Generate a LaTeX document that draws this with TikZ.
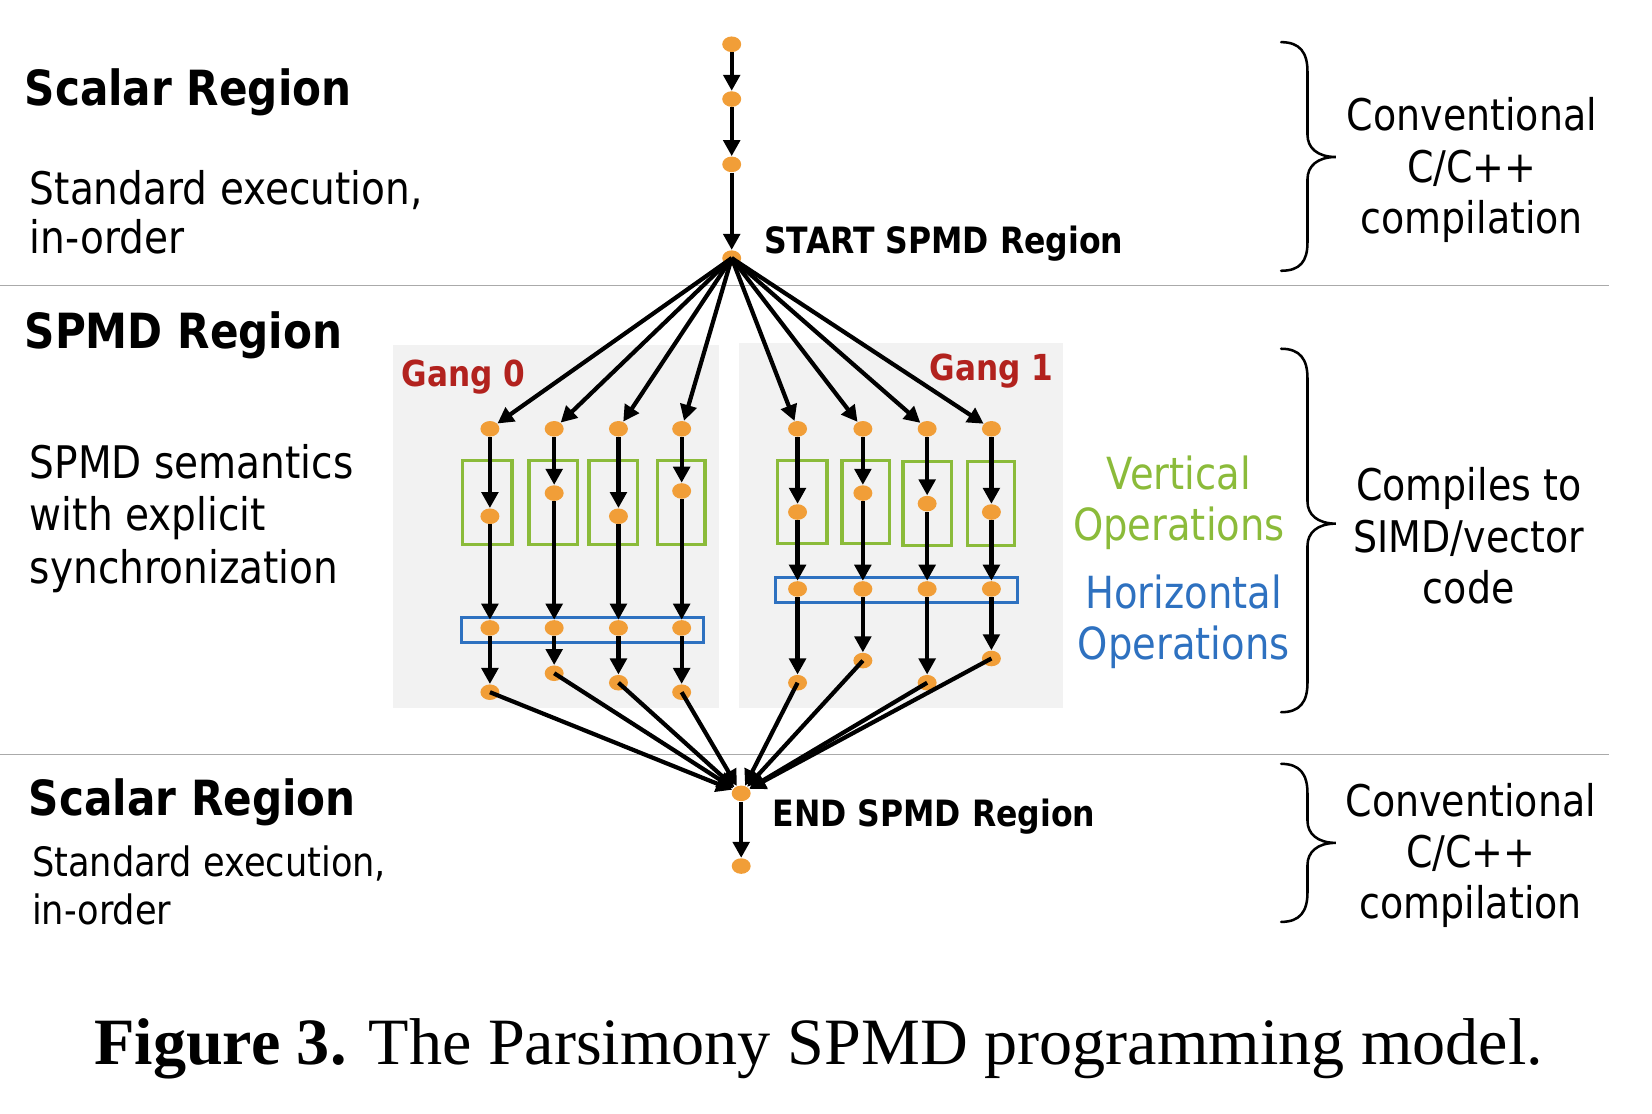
\documentclass[tikz,border=0pt]{standalone}
\usepackage{fontspec}
\setmainfont{Liberation Serif}
\newfontfamily\dv[FakeStretch=0.87]{DejaVu Sans}
\usetikzlibrary{arrows.meta,shapes.geometric}
\definecolor{dotc}{RGB}{241,158,56}
\definecolor{gangred}{RGB}{178,34,30}
\definecolor{vgreen}{RGB}{139,187,58}
\definecolor{hblue}{RGB}{46,113,192}
\definecolor{gboxc}{RGB}{242,242,242}
\definecolor{sepg}{RGB}{170,170,170}
\begin{document}
\begin{tikzpicture}[x=0.5pt,y=-0.5pt,
  dot/.style={ellipse,fill=dotc,minimum width=9pt,minimum height=7.4pt,inner sep=0pt},
  arr/.style={-{Triangle[length=7.6pt,width=7.8pt]},line width=2pt},
  lbl/.style={inner sep=0pt,anchor=base west},
  ctr/.style={inner sep=0pt,anchor=base},
  hd/.style={lbl,font=\dv\bfseries\fontsize{23pt}{27pt}\selectfont},
  bodyl/.style={lbl,font=\dv\fontsize{21.3pt}{25pt}\selectfont},
  bodyb/.style={lbl,font=\dv\fontsize{19.2pt}{23pt}\selectfont},
  rt/.style={ctr,font=\dv\fontsize{20.7pt}{24pt}\selectfont},
  vh/.style={ctr,font=\dv\fontsize{21pt}{25pt}\selectfont},
  gang/.style={inner sep=0pt,font=\dv\bfseries\fontsize{17pt}{20pt}\selectfont,text=gangred},
  gbox/.style={fill=gboxc,draw=none},
  vbox/.style={draw=vgreen,line width=1.6pt},
  hbox/.style={draw=hblue,line width=1.6pt},
  sep/.style={draw=sepg,line width=0.75pt},
  brace/.style={line width=1.2pt,line cap=round}]
\useasboundingbox (0,0) rectangle (1568,1057);

% gang backgrounds
\fill[gboxc] (373,327) rectangle (682,672);
\fill[gboxc] (701,326) rectangle (1009,672);

% separators
\draw[sep] (0,271) -- (1527,271);
\draw[sep] (0,716) -- (1527,716);

% vertical op boxes
\draw[vbox] (439,437) rectangle (486,517);
\draw[vbox] (502,437) rectangle (548,517);
\draw[vbox] (559,437) rectangle (605,517);
\draw[vbox] (624,437) rectangle (669,517);
\draw[vbox] (738,437) rectangle (785,516);
\draw[vbox] (799,437) rectangle (844,516);
\draw[vbox] (857,438) rectangle (903,518);
\draw[vbox] (918,438) rectangle (963,518);
% horizontal op boxes
\draw[hbox] (438,586) rectangle (668,610);
\draw[hbox] (736,548) rectangle (966,572);

% scalar chain
\node[dot] (n1) at (694.5,42) {};
\node[dot] (n2) at (694.5,94) {};
\node[dot] (n3) at (694.5,156) {};
\node[dot] (start) at (694.5,245) {};
\node[dot] (end) at (703.5,753) {};
\node[dot] (fin) at (703.5,822) {};

% gang 0
\foreach \i/\x/\m/\b in {1/465/490/657,2/526/468/639,3/587/490/648,4/647/466/657}{
  \node[dot] (at\i) at (\x,407) {};
  \node[dot] (am\i) at (\x,\m) {};
  \node[dot] (ah\i) at (\x,596) {};
  \node[dot] (ab\i) at (\x,\b) {};
}
% gang 1
\foreach \i/\x/\m/\b in {1/757/486/648,2/819/468/627,3/880/478/648,4/941/486/625}{
  \node[dot] (bt\i) at (\x,407) {};
  \node[dot] (bm\i) at (\x,\m) {};
  \node[dot] (bh\i) at (\x,559) {};
  \node[dot] (bb\i) at (\x,\b) {};
}

% connectors
\draw[arr] (n1) -- (n2);
\draw[arr] (n2) -- (n3);
\draw[arr] (n3) -- (start);
\foreach \g in {a,b}{
  \foreach \i in {1,...,4}{
    \draw[arr] (start.center) -- (\g t\i);
    \draw[arr] (\g t\i) -- (\g m\i);
    \draw[arr] (\g m\i) -- (\g h\i);
    \draw[arr] (\g h\i) -- (\g b\i);
    \draw[arr] (\g b\i.center) -- (end);
  }
}
\draw[arr] (end) -- (fin);

% braces
\draw[brace] (1216,40) .. controls (1234,40) and (1241,50) .. (1241,68) -- (1241,128)
  .. controls (1241,140) and (1250,149) .. (1268,149)
  .. controls (1250,149) and (1241,158) .. (1241,170) -- (1241,230)
  .. controls (1241,248) and (1234,257) .. (1216,257);
\draw[brace] (1216,331) .. controls (1234,331) and (1241,341) .. (1241,359) -- (1241,476)
  .. controls (1241,488) and (1250,497) .. (1268,497)
  .. controls (1250,497) and (1241,506) .. (1241,518) -- (1241,648)
  .. controls (1241,666) and (1234,676) .. (1216,676);
\draw[brace] (1216,725) .. controls (1234,725) and (1241,735) .. (1241,753) -- (1241,779)
  .. controls (1241,791) and (1250,800) .. (1268,800)
  .. controls (1250,800) and (1241,809) .. (1241,821) -- (1241,847)
  .. controls (1241,865) and (1234,875) .. (1216,875);

% left texts
\node[hd] (lsr1) at (23,100) {Scalar Region};
\node[bodyl] (ls1a) at (28,194.5) {Standard execution,};
\node[bodyl] (ls1b) at (28,241) {in-order};
\node[hd] (lspmd) at (23,331) {SPMD Region};
\node[bodyl] (lsm1) at (28,454) {SPMD semantics};
\node[bodyl] (lsm2) at (28,503.5) {with explicit};
\node[bodyl] (lsm3) at (28,553.5) {synchronization};
\node[hd] (lsr2) at (27,774) {Scalar Region};
\node[bodyb] (ls2a) at (30,832) {Standard execution,};
\node[bodyb] (ls2b) at (30,877) {in-order};

% center labels
\node[lbl,font=\dv\bfseries\fontsize{17.2pt}{20pt}\selectfont] (startl) at (725,240.5) {START SPMD Region};
\node[lbl,font=\dv\bfseries\fontsize{17.2pt}{20pt}\selectfont] (endl) at (733,784.5) {END SPMD Region};
\node[gang,anchor=base west] (g0) at (381,367) {Gang 0};
\node[gang,anchor=base east] (g1) at (1000,361) {Gang 1};

% operations legend
\node[vh,text=vgreen] (v1) at (1119,465) {Vertical};
\node[vh,text=vgreen] (v2) at (1119,513) {Operations};
\node[vh,text=hblue] (h1) at (1123.5,578) {Horizontal};
\node[vh,text=hblue] (h2) at (1123.5,626) {Operations};

% right texts
\node[rt] (r1a) at (1397,124) {Conventional};
\node[rt] (r1b) at (1397,173) {C/C++};
\node[rt] (r1c) at (1397,222) {compilation};
\node[rt] (r2a) at (1394,475) {Compiles to};
\node[rt] (r2b) at (1394,524) {SIMD/vector};
\node[rt] (r2c) at (1394,573) {code};
\node[rt] (r3a) at (1396,775) {Conventional};
\node[rt] (r3b) at (1396,823) {C/C++};
\node[rt] (r3c) at (1396,872) {compilation};

% caption
\node[ctr,font=\fontsize{31.4pt}{36pt}\selectfont] (cap) at (777,1010) {\textbf{Figure 3.} The Parsimony SPMD programming model.};
\end{tikzpicture}
\end{document}
